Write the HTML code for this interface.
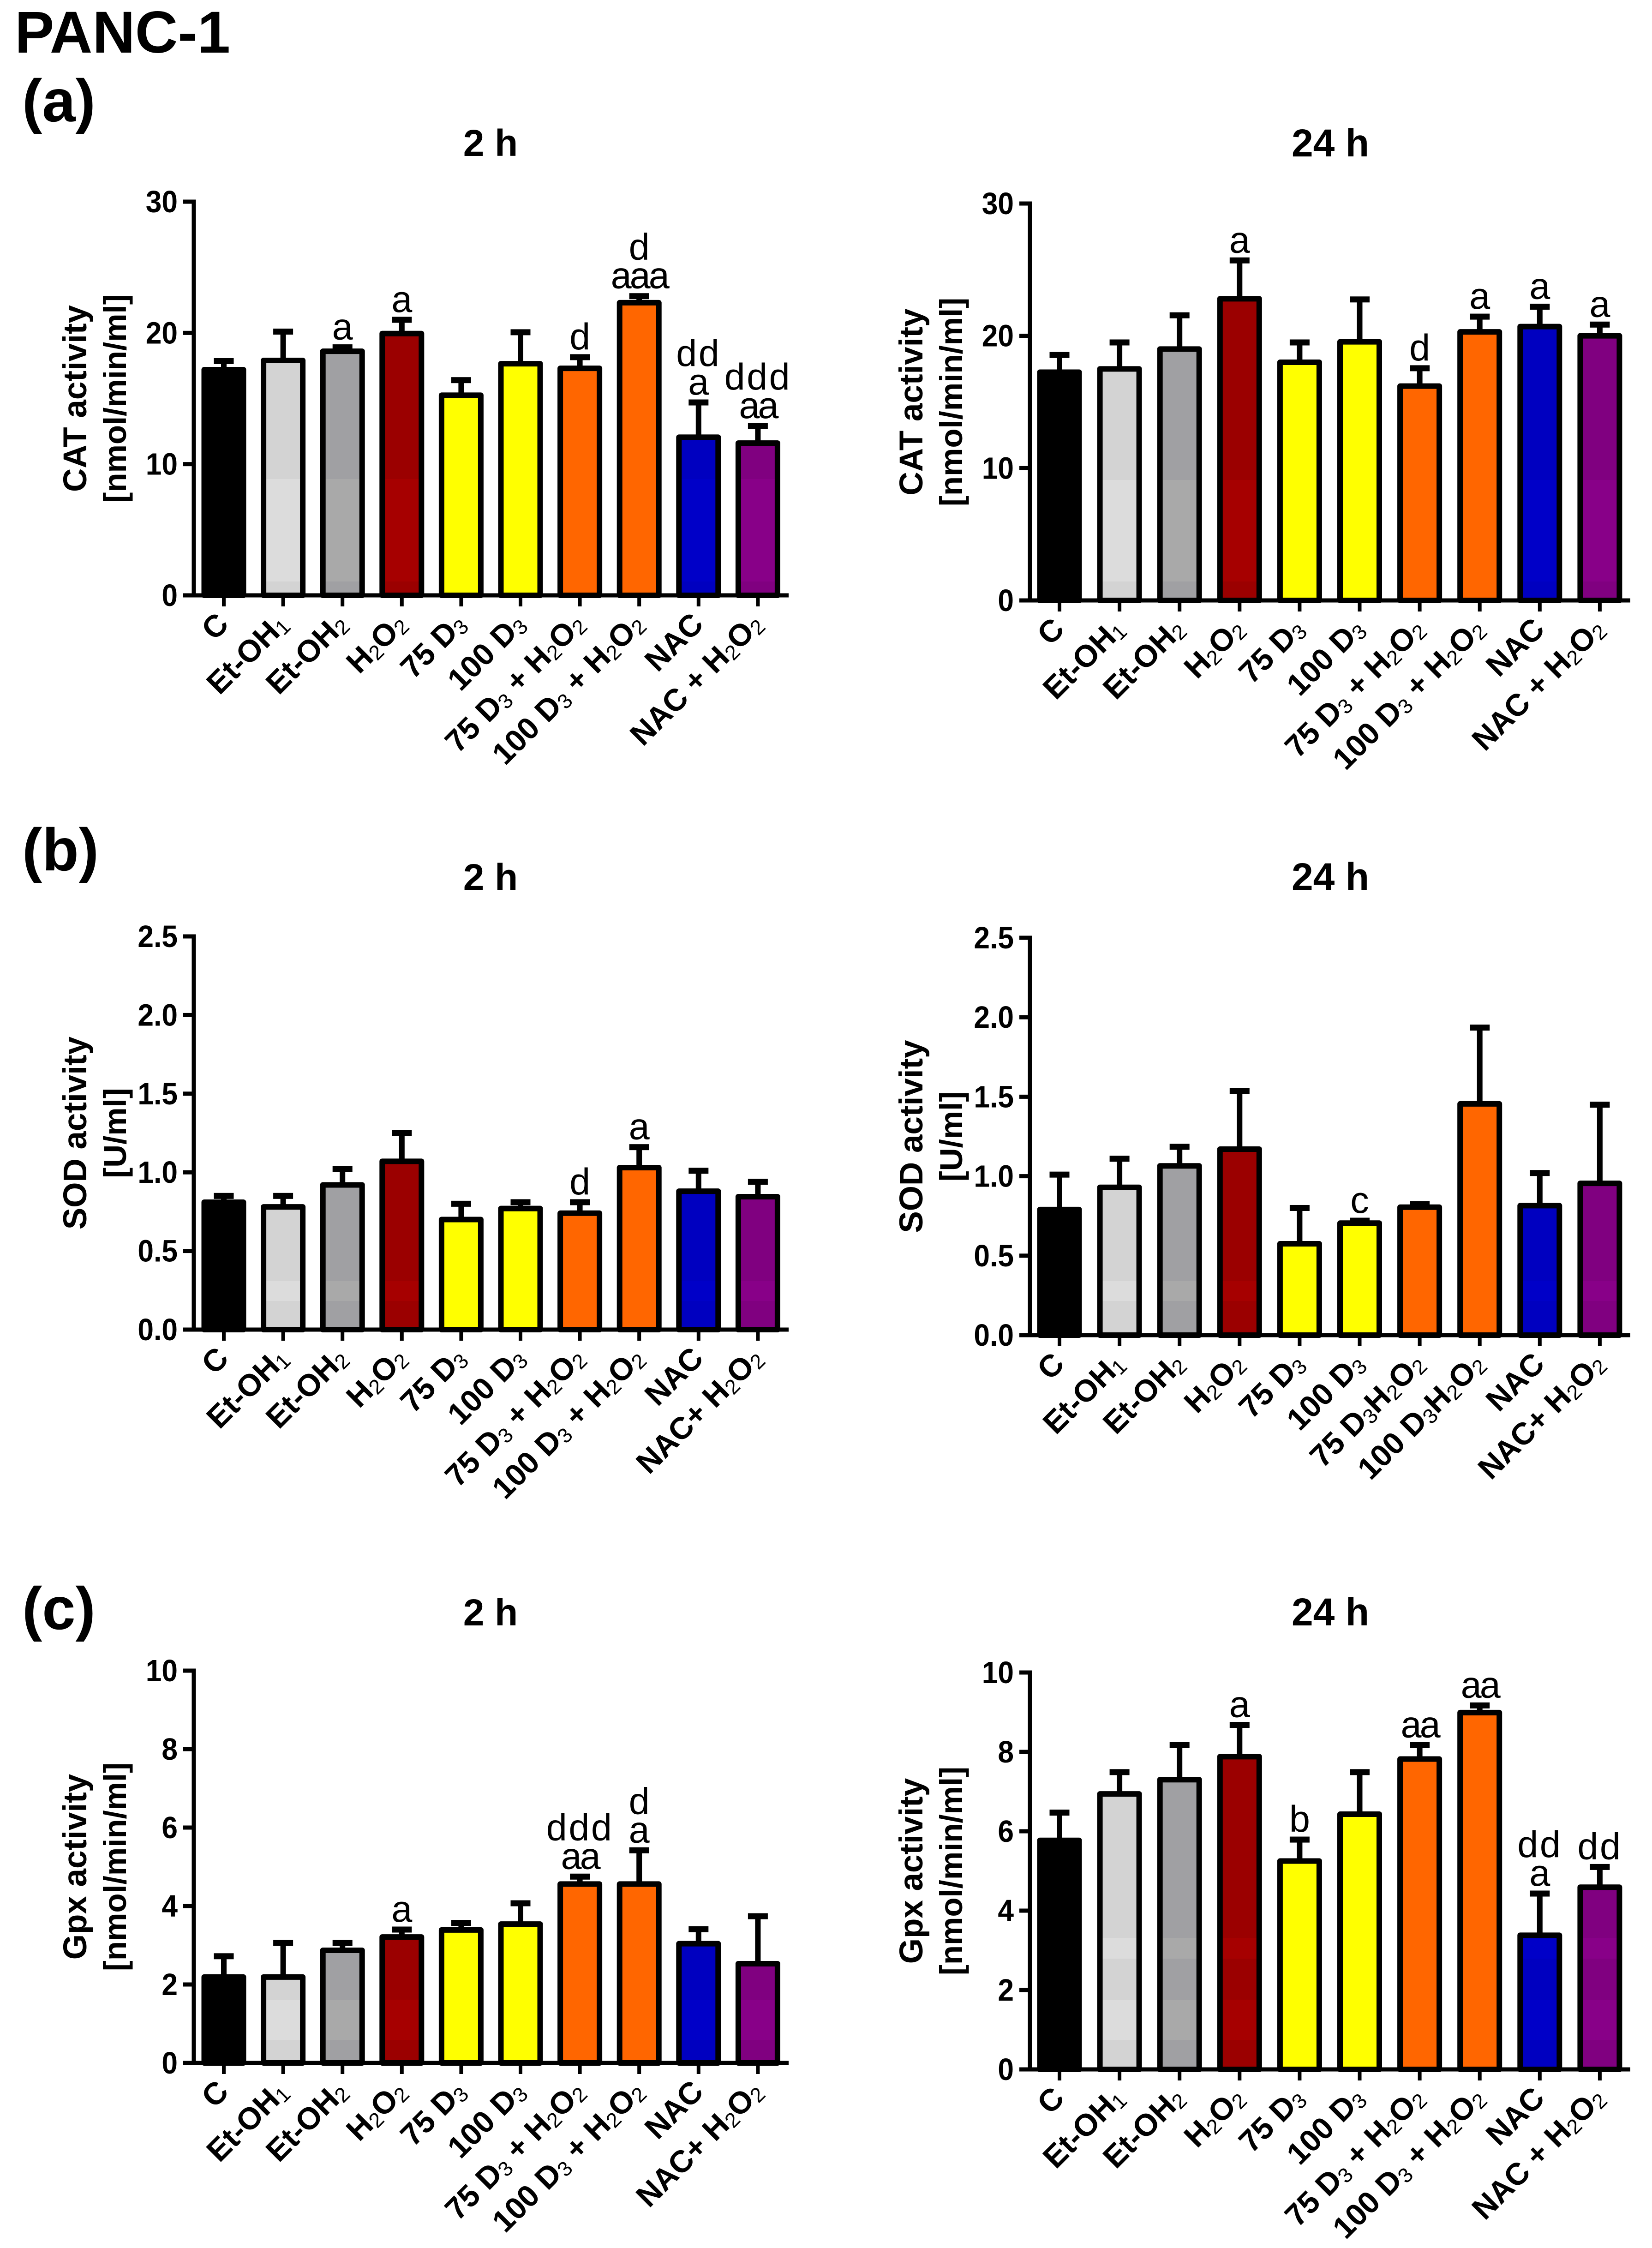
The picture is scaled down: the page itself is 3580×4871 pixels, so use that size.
<!DOCTYPE html>
<html lang="en">
<head>
<meta charset="utf-8">
<title>PANC-1 antioxidant enzyme activity</title>
<style>
html,body{margin:0;padding:0;background:#fff;}
svg{display:block;}
text{font-family:"Liberation Sans",Arial,sans-serif;fill:#000;}
</style>
</head>
<body>
<svg id="figure" xmlns="http://www.w3.org/2000/svg" width="3580" height="4871" viewBox="0 0 3580 4871">
  <rect x="0" y="0" width="3580" height="4871" fill="#fff"/>
  <text x="32" y="114" font-size="128" font-weight="700">PANC-1</text>
  <text x="48" y="263" font-size="130" font-weight="700">(a)</text>
  <text x="48" y="1886" font-size="130" font-weight="700">(b)</text>
  <text x="48" y="3530" font-size="130" font-weight="700">(c)</text>
</svg>
<script>
// ---------- category labels ("_" introduces a subscript digit) ----------
const categoriesMain = ['C','Et-OH_1','Et-OH_2','H_2O_2','75 D_3','100 D_3','75 D_3 + H_2O_2','100 D_3 + H_2O_2','NAC','NAC + H_2O_2'];
const categoriesNacTight = ['C','Et-OH_1','Et-OH_2','H_2O_2','75 D_3','100 D_3','75 D_3 + H_2O_2','100 D_3 + H_2O_2','NAC','NAC+ H_2O_2'];
const categoriesSod24 = ['C','Et-OH_1','Et-OH_2','H_2O_2','75 D_3','100 D_3','75 D_3H_2O_2','100 D_3H_2O_2','NAC','NAC+ H_2O_2'];

// ---------- axis ticks ----------
const catTicks = [0,10,20,30];
const catTickLabels = ['0','10','20','30'];
const sodTicks = [0,0.5,1,1.5,2,2.5];
const sodTickLabels = ['0.0','0.5','1.0','1.5','2.0','2.5'];
const gpxTicks = [0,2,4,6,8,10];
const gpxTickLabels = ['0','2','4','6','8','10'];

// ---------- series values: bar means and upper error limits ----------
const catMeans2h = [17.2,17.9,18.6,19.95,15.25,17.65,17.3,22.3,12.05,11.6];
const catUpper2h = [17.85,20.1,18.9,21,16.4,20.05,18.15,22.8,14.7,12.9];
const catMeans24h = [17.25,17.5,19,22.8,18,19.55,16.2,20.3,20.7,20];
const catUpper24h = [18.55,19.5,21.55,25.7,19.5,22.75,17.55,21.45,22.2,20.85];
const sodMeans2h = [0.81,0.78,0.92,1.07,0.7,0.77,0.74,1.03,0.88,0.845];
const sodUpper2h = [0.85,0.85,1.02,1.25,0.8,0.81,0.81,1.16,1.01,0.94];
const sodMeans24h = [0.79,0.93,1.065,1.17,0.575,0.705,0.805,1.455,0.815,0.955];
const sodUpper24h = [1.01,1.11,1.185,1.535,0.8,0.72,0.825,1.935,1.02,1.45];
const gpxMeans2h = [2.19,2.19,2.87,3.21,3.39,3.54,4.56,4.56,3.04,2.53];
const gpxUpper2h = [2.72,3.06,3.06,3.4,3.57,4.07,4.75,5.42,3.41,3.74];
const gpxMeans24h = [5.77,6.94,7.3,7.88,5.25,6.43,7.82,8.99,3.38,4.59];
const gpxUpper24h = [6.47,7.49,8.17,8.68,5.79,7.49,8.17,9.17,4.43,5.1];

// ---------- significance letters above each bar ("|" separates stacked lines, top first) ----------
const catNotes2h = ['','','a','a','','','d','d|aaa','dd|a','ddd|aa'];
const catNotes24h = ['','','','a','','','d','a','a','a'];
const sodNotes2h = ['','','','','','','d','a','',''];
const sodNotes24h = ['','','','','','c','','','',''];
const gpxNotes2h = ['','','','a','','','ddd|aa','d|a','',''];
const gpxNotes24h = ['','','','a','b','','aa','aa','dd|a','dd'];

// ---------- bar colours ----------
const barFill = ['#000000','#d3d3d3','#a0a0a3','#9b0000','#ffff00','#ffff00','#ff6600','#ff6600','#0000c0','#800080'];
const barFillLight = ['#000000','#dcdcdc','#a9a9a9','#a60000','#ffff00','#ffff00','#ff6600','#ff6600','#0000c8','#880088'];

const SVGNS = 'http://www.w3.org/2000/svg';
const svg = document.getElementById('figure');

function makeRect(parent, x, y, w, h, fill) {
  const r = document.createElementNS(SVGNS, 'rect');
  r.setAttribute('x', x);
  r.setAttribute('y', y);
  r.setAttribute('width', w);
  r.setAttribute('height', h);
  r.setAttribute('fill', fill);
  parent.appendChild(r);
  return r;
}
function makeText(parent, x, y, size, weight, anchor, content) {
  const t = document.createElementNS(SVGNS, 'text');
  t.setAttribute('x', x);
  t.setAttribute('y', y);
  t.setAttribute('font-size', size);
  t.setAttribute('font-weight', weight);
  t.setAttribute('text-anchor', anchor);
  if (content !== undefined) t.textContent = content;
  parent.appendChild(t);
  return t;
}
function addLabelRuns(textEl, label) {
  const subDrop = 7;
  const parts = label.split('_');
  let pendingDy = 0;
  parts.forEach(function (part, i) {
    const isSubPart = i > 0;
    const runs = isSubPart ? [part.slice(0, 1), part.slice(1)] : [part];
    runs.forEach(function (run, j) {
      if (!run) return;
      const span = document.createElementNS(SVGNS, 'tspan');
      if (isSubPart && j === 0) {
        span.setAttribute('dy', subDrop);
        span.setAttribute('font-size', 45);
        span.setAttribute('font-weight', 400);
        pendingDy = -subDrop;
      } else if (pendingDy) {
        span.setAttribute('dy', pendingDy);
        pendingDy = 0;
      }
      span.textContent = run;
      textEl.appendChild(span);
    });
  });
}

function drawPanel(p) {
  const g = document.createElementNS(SVGNS, 'g');
  
  
  svg.appendChild(g);

  const yScale = function (v) { return p.base - (v / p.yMax) * (p.base - p.top); };
  const xScale = function (i) { return p.firstX + p.step * i; };

  const title = makeText(g, p.titleX, p.titleY, p.title.length > 3 ? 84 : 82, 700, 'middle', p.title);
  
  

  p.yTitle.forEach(function (line, i) {
    const bx = p.axisX + (i === 0 ? -233 : -147);
    const my = (p.top + p.base) / 2;
    const t = makeText(g, 0, 0, i === 0 ? 71 : 69, 700, 'middle', line);
    t.setAttribute('transform', 'translate(' + bx + ',' + my + ') rotate(-90)');
    
    
  });

  // bars and error bars
  p.means.forEach(function (m, i) {
    const cx = xScale(i);
    const yTop = yScale(m);
    const yCap = yScale(p.upper[i]);

    const stem = makeRect(g, cx - 6, yCap, 12, yTop - yCap + 4, '#000');
    
    

    const cap = makeRect(g, cx - 21.5, yCap - 6.5, 43, 13, '#000');
    
    

    const halfW = 42.5;
    const bar = makeRect(g, cx - halfW, yTop, halfW * 2, p.base - yTop, barFill[i]);
    
    

    p.bands.forEach(function (band) {
      const y0 = Math.max(band[0], yTop);
      const y1 = Math.min(band[1], p.base);
      if (y1 > y0) {
        const shade = makeRect(g, cx - halfW, y0, halfW * 2, y1 - y0, barFillLight[i]);
        
        
      }
    });

    const outline = makeRect(g, cx - halfW, yTop, halfW * 2, p.base - yTop, 'none');
    outline.setAttribute('stroke', '#000');
    outline.setAttribute('stroke-width', 12);
    outline.setAttribute('stroke-linejoin', 'round');
    
    

    // significance letters
    if (p.notes[i]) {
      const lines = p.notes[i].split('|').reverse();
      lines.forEach(function (line, k) {
        const note = makeText(g, cx, yCap - 17 - k * 62, 81, 400, 'middle', line);
        if (line.length > 1) note.setAttribute('letter-spacing', line.charAt(0) === 'd' ? 3.5 : -4);
        
        
      });
    }
  });

  // axes
  const yAxis = makeRect(g, p.axisX - 4.5, p.top - 4.5, 9, p.base - p.top + 9, '#000');
  
  

  const xAxis = makeRect(g, p.axisX - 23, p.base - 4.5, p.endX - p.axisX + 23, 9, '#000');
  
  

  // y ticks
  p.ticks.forEach(function (v, i) {
    const y = yScale(v);
    const tick = makeRect(g, p.axisX - 23, y - 4.5, 23, 9, '#000');
    
    

    const lab = makeText(g, 0, 0, 67, 700, 'end', p.tickLabels[i]);
    lab.setAttribute('transform', 'translate(' + (p.axisX - 35) + ',' + (y + 23) + ') scale(0.93,1)');
    
    
  });

  // x ticks and rotated category labels
  p.categories.forEach(function (c, i) {
    const cx = xScale(i);
    const tick = makeRect(g, cx - 4, p.base + 4, 8, 20, '#000');
    
    

    const lab = makeText(g, 0, 0, 67, 700, 'end');
    lab.setAttribute('transform', 'translate(' + (cx + 14) + ',' + (p.base + 66) + ') rotate(-45)');
    addLabelRuns(lab, c);
    
    
  });
}

const leftCol = { axisX: 420, firstX: 485, step: 128.6, endX: 1709, titleX: 1063 };
const rightCol = { axisX: 2232, firstX: 2296, step: 130.1, endX: 3533, titleX: 2883 };

drawPanel(Object.assign({}, leftCol, {
  name: 'cat-chart-2h', title: '2 h', titleY: 338, top: 437, base: 1290, yMax: 30,
  yTitle: ['CAT activity', '[nmol/min/ml]'], ticks: catTicks, tickLabels: catTickLabels,
  categories: categoriesMain, means: catMeans2h, upper: catUpper2h, notes: catNotes2h,
  bands: [[1038, 1260]]
}));
drawPanel(Object.assign({}, rightCol, {
  name: 'cat-chart-24h', title: '24 h', titleY: 339, top: 441, base: 1301, yMax: 30,
  yTitle: ['CAT activity', '[nmol/min/ml]'], ticks: catTicks, tickLabels: catTickLabels,
  categories: categoriesMain, means: catMeans24h, upper: catUpper24h, notes: catNotes24h,
  bands: [[1040, 1260]]
}));
drawPanel(Object.assign({}, leftCol, {
  name: 'sod-chart-2h', title: '2 h', titleY: 1929, top: 2029, base: 2881, yMax: 2.5,
  yTitle: ['SOD activity', '[U/ml]'], ticks: sodTicks, tickLabels: sodTickLabels,
  categories: categoriesNacTight, means: sodMeans2h, upper: sodUpper2h, notes: sodNotes2h,
  bands: [[2776, 2819]]
}));
drawPanel(Object.assign({}, rightCol, {
  name: 'sod-chart-24h', title: '24 h', titleY: 1929, top: 2032, base: 2893, yMax: 2.5,
  yTitle: ['SOD activity', '[U/ml]'], ticks: sodTicks, tickLabels: sodTickLabels,
  categories: categoriesSod24, means: sodMeans24h, upper: sodUpper24h, notes: sodNotes24h,
  bands: [[2776, 2819]]
}));
drawPanel(Object.assign({}, leftCol, {
  name: 'gpx-chart-2h', title: '2 h', titleY: 3522, top: 3620, base: 4470, yMax: 10,
  yTitle: ['Gpx activity', '[nmol/min/ml]'], ticks: gpxTicks, tickLabels: gpxTickLabels,
  categories: categoriesNacTight, means: gpxMeans2h, upper: gpxUpper2h, notes: gpxNotes2h,
  bands: [[4333, 4420]]
}));
drawPanel(Object.assign({}, rightCol, {
  name: 'gpx-chart-24h', title: '24 h', titleY: 3522, top: 3624, base: 4484, yMax: 10,
  yTitle: ['Gpx activity', '[nmol/min/ml]'], ticks: gpxTicks, tickLabels: gpxTickLabels,
  categories: categoriesMain, means: gpxMeans24h, upper: gpxUpper24h, notes: gpxNotes24h,
  bands: [[4199, 4244], [4333, 4420]]
}));
</script>
</body>
</html>
